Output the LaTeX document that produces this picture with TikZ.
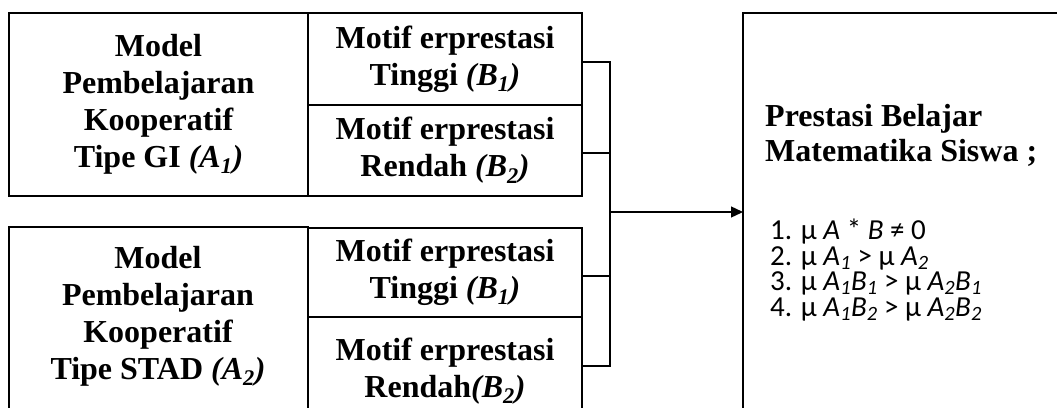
\documentclass[tikz,border=0pt]{standalone}
\usepackage{fontspec}
\setmainfont{Liberation Serif}
\newfontfamily\calfont{Carlito}
\usetikzlibrary{arrows.meta}
\begin{document}
\begin{tikzpicture}[x=1pt,y=-1pt,
  frame/.style={draw, line width=1.7pt, inner sep=0pt, outer sep=0pt, anchor=north west,
     align=center, font=\fontsize{32}{37}\selectfont\bfseries},
  lbl/.style={inner sep=0pt, align=center, font=\fontsize{32}{37}\selectfont\bfseries},
  ttl/.style={inner sep=0pt, anchor=base west, font=\fontsize{32}{37}\selectfont\bfseries},
  lst/.style={inner sep=0pt, anchor=base west, font=\calfont\fontsize{29}{26}\selectfont},
  conn/.style={line width=1.3pt},
  arr/.style={line width=1.3pt, -{Triangle[length=12pt,width=11pt]}}]
\useasboundingbox (0,0) rectangle (1057,407);
\clip (0,0) rectangle (1057,407);
% group 1
\node[frame, minimum width=299pt, minimum height=183pt] (a1) at (9,13)
  {Model\\Pembelajaran\\Kooperatif\\Tipe GI \textit{(A\textsubscript{1})}};
\node[frame, minimum width=274pt, minimum height=92pt] (b11) at (308,13)
  {Motif erprestasi\\Tinggi \textit{(B\textsubscript{1})}};
\node[frame, minimum width=274pt, minimum height=91pt] (b12) at (308,105)
  {Motif erprestasi\\Rendah \textit{(B\textsubscript{2})}};
% group 2 (cut off at the bottom)
\node[frame, minimum width=299pt, minimum height=220pt] (a2) at (9,227) {};
\node[lbl] (a2t) at (158,316)
  {Model\\Pembelajaran\\Kooperatif\\Tipe STAD \textit{(A\textsubscript{2})}};
\node[frame, minimum width=274pt, minimum height=89pt] (b21) at (308,228)
  {Motif erprestasi\\Tinggi \textit{(B\textsubscript{1})}};
\node[frame, minimum width=274pt, minimum height=130pt] (b22) at (308,317) {};
\node[lbl] (b22t) at (445,371)
  {Motif erprestasi\\Rendah\textit{(B\textsubscript{2})}};
% result box (cut off at right and bottom)
\node[frame, minimum width=340pt, minimum height=440pt] (res) at (743,13) {};
\node[ttl] (t1) at (765,126) {Prestasi Belajar};
\node[ttl] (t2) at (765,161) {Matematika Siswa ;};
\node[lst] (l1) at (770,239) {1. µ \textit{A} * \textit{B} ≠ 0};
\node[lst] (l2) at (770,265) {2. µ \textit{A\textsubscript{1}} > µ \textit{A\textsubscript{2}}};
\node[lst] (l3) at (770,290) {3. µ \textit{A\textsubscript{1}B\textsubscript{1}} > µ \textit{A\textsubscript{2}B\textsubscript{1}}};
\node[lst] (l4) at (770,316) {4. µ \textit{A\textsubscript{1}B\textsubscript{2}} > µ \textit{A\textsubscript{2}B\textsubscript{2}}};
% connectors
\coordinate (bt) at (610,62);
\coordinate (bm1) at (610,153);
\coordinate (bm2) at (610,276);
\coordinate (bb) at (610,366);
\coordinate (j) at (610,212);
\draw[conn] (b11.east|-bt) -- (bt) -- (bb) -- (b22.east|-bb);
\draw[conn] (b12.east|-bm1) -- (bm1);
\draw[conn] (b21.east|-bm2) -- (bm2);
\draw[arr] (j) -- (res.west|-j);
\end{tikzpicture}
\end{document}
